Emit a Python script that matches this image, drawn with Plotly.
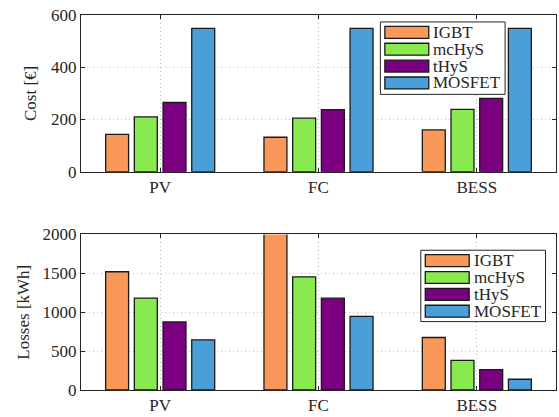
import plotly.graph_objects as go

categories = ["PV", "FC", "BESS"]
series = ["IGBT", "mcHyS", "tHyS", "MOSFET"]
colors = ["#F99858", "#88EA4E", "#7A0080", "#4A9FD9"]
cost = {
    "IGBT": [143, 132, 160],
    "mcHyS": [210, 205, 239],
    "tHyS": [265, 238, 281],
    "MOSFET": [549, 549, 549],
}
losses = {
    "IGBT": [1520, 2100, 675],
    "mcHyS": [1180, 1455, 380],
    "tHyS": [875, 1180, 262],
    "MOSFET": [645, 945, 138],
}
cost_ticks = [0, 200, 400, 600]
loss_ticks = [0, 500, 1000, 1500, 2000]

FONT = "Liberation Serif, serif"
fig = go.Figure()
xpos = [1, 2, 3]
for name, col in zip(series, colors):
    fig.add_trace(go.Bar(x=xpos, y=cost[name], name=name, marker=dict(color=col, line=dict(color="#1a1a1a", width=1.3)),
                         xaxis="x", yaxis="y", showlegend=False))
    fig.add_trace(go.Bar(x=xpos, y=losses[name], name=name, marker=dict(color=col, line=dict(color="#1a1a1a", width=1.3)),
                         xaxis="x2", yaxis="y2", showlegend=False))

axcommon = dict(showline=True, mirror="ticks", linecolor="#262626", linewidth=1,
                gridcolor="#bdbdbd", griddash="1px,3px", gridwidth=1, zeroline=False,
                ticks="inside", ticklen=4, tickcolor="#262626",
                tickfont=dict(family=FONT, size=17, color="#262626"))
fig.update_layout(
    width=559, height=417,
    margin=dict(l=81, r=2, t=15, b=24),
    paper_bgcolor="white", plot_bgcolor="white",
    barmode="group", bargap=0.275, bargroupgap=0.2,
    font=dict(family=FONT, color="#262626"),
    xaxis=dict(domain=[0, 1], anchor="y", range=[0.5, 3.5], tickvals=xpos, ticktext=categories, **axcommon),
    yaxis=dict(domain=[0.582, 1], anchor="x", range=[0, 600], tickvals=cost_ticks,
               title=dict(text="Cost [€]", font=dict(family=FONT, size=17, color="#262626"), standoff=10), **axcommon),
    xaxis2=dict(domain=[0, 1], anchor="y2", range=[0.5, 3.5], tickvals=xpos, ticktext=categories, **axcommon),
    yaxis2=dict(domain=[0, 0.415], anchor="x2", range=[0, 2000], tickvals=loss_ticks,
                title=dict(text="Losses [kWh]", font=dict(family=FONT, size=17, color="#262626"), standoff=8), **axcommon),
)

# custom legends (pixel layout converted to axis-domain fractions)
def add_legend(xref, yref, box_px, plot_px):
    x0p, y0p, x1p, y1p = plot_px
    bx0, by0, bx1, by1 = box_px
    fx = lambda px: (px - x0p) / (x1p - x0p)
    fy = lambda py: (y1p - py) / (y1p - y0p)
    fig.add_shape(type="rect", xref=xref, yref=yref, x0=fx(bx0), x1=fx(bx1), y0=fy(by1), y1=fy(by0),
                  line=dict(color="#262626", width=1), fillcolor="white", layer="above")
    for i, (name, col) in enumerate(zip(series, colors)):
        ry0 = by0 + 4.5 + i * 17
        fig.add_shape(type="rect", xref=xref, yref=yref, x0=fx(bx0 + 4.5), x1=fx(bx0 + 48.5),
                      y0=fy(ry0 + 12), y1=fy(ry0), line=dict(color="#1a1a1a", width=1.3), fillcolor=col, layer="above")
        fig.add_annotation(xref=xref, yref=yref, x=fx(bx0 + 51), y=fy(ry0 + 6), text=name, showarrow=False,
                           xanchor="left", yanchor="middle", font=dict(family=FONT, size=17, color="#262626"))

add_legend("x domain", "y domain", (381, 22, 506, 95), (81, 15, 557, 173))
add_legend("x2 domain", "y2 domain", (421.5, 252, 546.5, 324), (81, 236, 557, 393))

fig.write_html("out.html", config={"displayModeBar": False},
               post_script="document.body.style.margin='0';document.body.style.overflow='hidden';")
